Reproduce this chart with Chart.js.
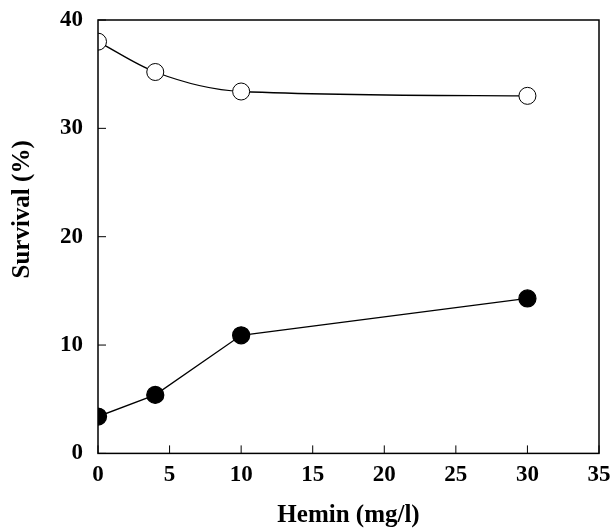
<!DOCTYPE html>
<html>
<head>
<meta charset="utf-8">
<script src="https://cdn.jsdelivr.net/npm/chart.js@4"></script>
<style>
  html, body { margin: 0; padding: 0; background: #fff; }
  #wrap { width: 613px; height: 529px; }
</style>
</head>
<body>
<div id="wrap"><canvas id="myChart" width="613" height="529"></canvas></div>
<script>
// Data
const heminDose = [0, 4, 10, 30];
const survivalOpen = [38.0, 35.2, 33.4, 33.0];
const survivalFilled = [3.4, 5.4, 10.9, 14.3];
const xTicks = [0, 5, 10, 15, 20, 25, 30, 35];
const yTicks = [0, 10, 20, 30, 40];
const yTitle = 'Survival (%)';

const toPoints = (xs, ys) => xs.map((x, i) => ({ x: x, y: ys[i] }));

const tickFont = { family: 'Liberation Serif', weight: 'bold', size: 23 };
const titleFont = { family: 'Liberation Serif', weight: 'bold', size: 25 };

// Draws inward tick marks, closes the frame, and the y title (sits a bit above centre)
const frameTicks = {
  id: 'frameTicks',
  afterDraw(chart) {
    const { ctx, chartArea: a, scales } = chart;
    ctx.save();
    ctx.strokeStyle = '#000';
    ctx.lineWidth = 1.5;
    ctx.strokeRect(a.left, a.top, a.right - a.left, a.bottom - a.top);
    ctx.lineWidth = 1;
    xTicks.forEach(v => {
      const px = scales.x.getPixelForValue(v);
      ctx.beginPath();
      ctx.moveTo(px, a.bottom);
      ctx.lineTo(px, a.bottom - 8);
      ctx.stroke();
    });
    yTicks.forEach(v => {
      const py = scales.y.getPixelForValue(v);
      ctx.beginPath();
      ctx.moveTo(a.left, py);
      ctx.lineTo(a.left + 8, py);
      ctx.stroke();
    });
    // y axis title
    ctx.translate(23, a.top + (a.bottom - a.top) * 0.437);
    ctx.rotate(-Math.PI / 2);
    ctx.fillStyle = '#000';
    ctx.font = 'bold 25px "Liberation Serif"';
    ctx.textAlign = 'center';
    ctx.textBaseline = 'middle';
    ctx.fillText(yTitle, 0, 0);
    ctx.restore();
  }
};

new Chart(document.getElementById('myChart').getContext('2d'), {
  type: 'scatter',
  data: {
    datasets: [
      {
        label: 'open',
        data: toPoints(heminDose, survivalOpen),
        showLine: true,
        cubicInterpolationMode: 'monotone',
        borderColor: '#000',
        borderWidth: 1.3,
        pointRadius: 8.5,
        pointBackgroundColor: '#fff',
        pointBorderColor: '#000',
        pointBorderWidth: 1
      },
      {
        label: 'filled',
        data: toPoints(heminDose, survivalFilled),
        showLine: true,
        borderColor: '#000',
        borderWidth: 1.3,
        pointRadius: 8.5,
        pointBackgroundColor: '#000',
        pointBorderColor: '#000'
      }
    ]
  },
  options: {
    responsive: false,
    animation: false,
    layout: { padding: { top: 0, right: 0, left: 45, bottom: -2 } },
    plugins: {
      legend: { display: false },
      tooltip: { enabled: false }
    },
    scales: {
      x: {
        type: 'linear',
        min: 0,
        max: 35,
        grid: { display: false, drawTicks: false },
        border: { display: false },
        afterBuildTicks: s => { s.ticks = xTicks.map(v => ({ value: v })); },
        afterFit: s => { s.paddingRight = 14; },
        ticks: { color: '#000', font: tickFont, padding: 8, maxRotation: 0 },
        title: { display: true, text: 'Hemin (mg/l)', color: '#000', font: titleFont, padding: { top: 4, bottom: 0 } }
      },
      y: {
        type: 'linear',
        min: 0,
        max: 40,
        grid: { display: false, drawTicks: false },
        border: { display: false },
        afterBuildTicks: s => { s.ticks = yTicks.map(v => ({ value: v })); },
        afterFit: s => { s.paddingTop = 20; },
        ticks: { color: '#000', font: tickFont, padding: 15 }
      }
    }
  },
  plugins: [frameTicks]
});
</script>
</body>
</html>
